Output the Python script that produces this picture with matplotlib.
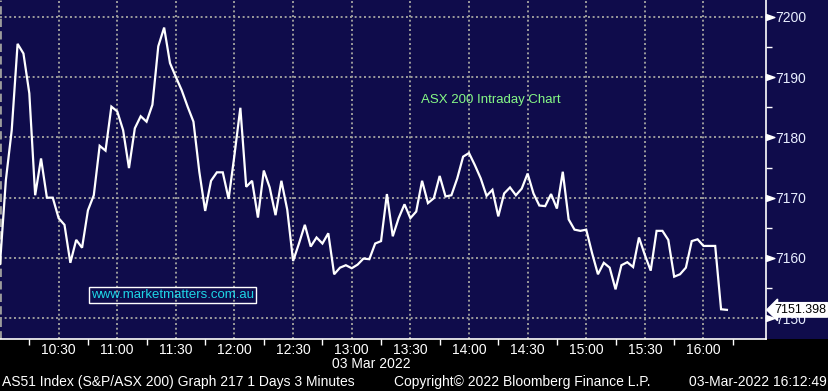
import matplotlib
matplotlib.use("Agg")
import matplotlib.pyplot as plt
import numpy as np
from matplotlib.patches import Rectangle
from matplotlib.path import Path
from matplotlib.ticker import FixedLocator, FuncFormatter

## -------- DATA -------- ##

# ASX 200 intraday, 3-minute bars starting 10:00
start_minute = 10 * 60
step_minutes = 3
values = [
    7159.0, 7172.9, 7181.2, 7195.5, 7193.9, 7187.3, 7170.4, 7176.5, 7170.0, 7170.0,
    7166.6, 7165.5, 7159.2, 7163.0, 7161.7, 7167.9, 7170.4, 7178.6, 7177.8, 7185.1,
    7184.3, 7181.2, 7174.9, 7181.5, 7183.5, 7182.6, 7185.4, 7195.1, 7198.2, 7192.3,
    7190.0, 7187.8, 7185.1, 7182.6, 7174.3, 7167.8, 7172.8, 7174.2, 7174.2, 7169.8,
    7177.1, 7184.9, 7171.8, 7172.8, 7166.7, 7174.5, 7171.7, 7167.1, 7172.8, 7168.0,
    7159.5, 7162.4, 7165.5, 7161.9, 7163.4, 7162.4, 7164.1, 7157.3, 7158.4, 7158.8,
    7158.3, 7158.9, 7159.9, 7159.8, 7162.4, 7162.8, 7170.6, 7163.6, 7166.6, 7168.9,
    7166.6, 7167.7, 7172.8, 7169.1, 7169.9, 7173.6, 7170.2, 7170.4, 7173.2, 7176.8,
    7177.4, 7175.4, 7173.2, 7170.3, 7171.3, 7166.9, 7170.7, 7171.7, 7170.4, 7171.5,
    7174.0, 7170.7, 7168.7, 7168.6, 7170.6, 7168.2, 7174.3, 7166.4, 7164.7, 7164.5,
    7164.7, 7160.8, 7157.3, 7159.2, 7158.4, 7154.8, 7158.8, 7159.3, 7158.5, 7163.4,
    7160.5, 7157.9, 7164.5, 7164.5, 7163.0, 7156.9, 7157.3, 7158.4, 7162.8, 7163.1,
    7162.0, 7162.0, 7162.0, 7151.5, 7151.398,
]
last_value = 7151.398

y_major = [7150, 7160, 7170, 7180, 7190, 7200]
y_minor = [7155, 7165, 7175, 7185, 7195]
x_major = [630, 660, 690, 720, 750, 780, 810, 840, 870, 900, 930, 960]  # 10:30 .. 16:00
x_minor = [615, 645, 675, 705, 735, 765, 795, 825, 855, 885, 915, 945, 975]

title_text = "ASX 200 Intraday Chart"
watermark = "www.marketmatters.com.au"
date_text = "03 Mar 2022"
footer_left = "AS51 Index (S&P/ASX 200) Graph 217 1 Days 3 Minutes"
footer_mid = "Copyright\u00a9 2022 Bloomberg Finance L.P."
footer_right = "03-Mar-2022 16:12:49"

## -------- STYLE -------- ##
plt.rcParams['font.family'] = ['Liberation Sans', 'DejaVu Sans']

W, H = 829, 391
plot_w, plot_h = 766, 339
navy = "#0f0c4b"
grid_col = "#9c9c9c"
label_col = "#e8eeff"

minutes = start_minute + step_minutes * np.arange(len(values))

fig = plt.figure(figsize=(W / 100, H / 100), dpi=100, facecolor="black")
# navy strip behind the right-hand price axis (drawn under the axes)
fig.patches.append(Rectangle((plot_w / W, 1 - plot_h / H), 1 - plot_w / W, plot_h / H,
                             transform=fig.transFigure, facecolor=navy, edgecolor="none", zorder=-1))

ax = fig.add_axes([0, 1 - plot_h / H, plot_w / W, plot_h / H])
ax.set_facecolor(navy)

ax.plot(minutes, values, color="white", linewidth=1.6, zorder=3, solid_joinstyle="miter")

ax.set_xlim(600, 992)
ax.set_ylim(7146.57, 7202.77)

# axes / spines
for side in ["top", "left"]:
    ax.spines[side].set_visible(False)
for side in ["right", "bottom"]:
    ax.spines[side].set_color("white")
    ax.spines[side].set_linewidth(1.2)

ax.yaxis.tick_right()
ax.yaxis.set_major_locator(FixedLocator(y_major))
ax.yaxis.set_minor_locator(FixedLocator(y_minor))
ax.tick_params(axis="y", which="major", length=0, pad=7, labelsize=10, labelcolor=label_col)
ax.tick_params(axis="y", which="minor", length=4, width=1, color="white", direction="out")

ax.xaxis.set_major_locator(FixedLocator(x_major))
ax.xaxis.set_minor_locator(FixedLocator(x_minor))
ax.xaxis.set_major_formatter(FuncFormatter(lambda m, pos: "%d:%02d" % (int(m) // 60, int(m) % 60)))
ax.tick_params(axis="x", which="major", length=0, pad=3, labelsize=10, labelcolor="white")
ax.tick_params(axis="x", which="minor", length=4, width=1, color="white", direction="out")

ax.grid(True, which="major", color=grid_col, linewidth=1.4, linestyle=(0, (1, 1.4)))
ax.axvline(600, color=grid_col, linewidth=2, linestyle=(0, (3, 1.5)), zorder=1)

# triangular tick markers on the price axis
tri = Path([(0, -0.35), (1, 0), (0, 0.35), (0, -0.35)],
           [Path.MOVETO, Path.LINETO, Path.LINETO, Path.CLOSEPOLY])
ax.plot([1.0] * len(y_major), y_major, linestyle="none", marker=tri, markersize=12,
        color="white", transform=ax.get_yaxis_transform(), clip_on=False, zorder=4)

# last price tag
ax.annotate("%.3f" % last_value, xy=(1.0, last_value), xycoords=ax.get_yaxis_transform(),
            xytext=(6, 0), textcoords="offset points", ha="left", va="center",
            fontsize=9, color="black", zorder=6, annotation_clip=False,
            bbox=dict(boxstyle="larrow,pad=0.1", facecolor="white", edgecolor="white"))

# chart annotations
ax.text(0.549, 0.705, title_text, transform=ax.transAxes, color="#86f986", fontsize=9.5,
        ha="left", va="center")
ax.text(0.119, 0.129, watermark, transform=ax.transAxes, color="#1ed6e6", fontsize=9.5,
        ha="left", va="center",
        bbox=dict(boxstyle="square,pad=0.15", facecolor="none", edgecolor="white", linewidth=1))
ax.text(0.485, -0.074, date_text, transform=ax.transAxes, color="white", fontsize=10,
        ha="center", va="center")

# footer
fig.text(2 / W, 1 - 382 / H, footer_left, color="white", fontsize=10, ha="left", va="center")
fig.text(394 / W, 1 - 382 / H, footer_mid, color="white", fontsize=10, ha="left", va="center")
fig.text(827 / W, 1 - 382 / H, footer_right, color="white", fontsize=10, ha="right", va="center")

plt.savefig("out.png", dpi=100, facecolor=fig.get_facecolor())
